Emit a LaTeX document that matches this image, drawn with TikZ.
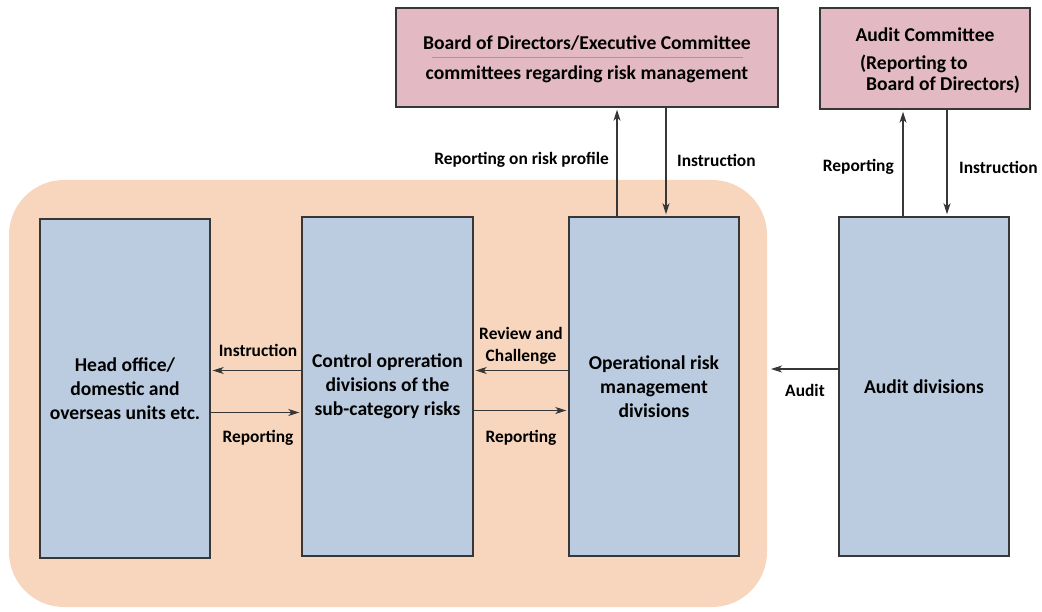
\documentclass[tikz,border=0pt]{standalone}
\usepackage{fontspec}
\setmainfont{Carlito}
\usetikzlibrary{arrows.meta}
\definecolor{peach}{RGB}{248,214,189}
\definecolor{boxblue}{RGB}{187,204,224}
\definecolor{boxpink}{RGB}{227,186,196}
\definecolor{edge}{RGB}{55,55,55}

\begin{document}
\begin{tikzpicture}[x=1pt,y=-1pt,>={Stealth[length=11pt,width=7pt,inset=3pt]},
  unitbox/.style={draw=edge,line width=1.4pt,fill=boxblue,minimum width=170pt,
    minimum height=339pt,align=center,inner sep=0pt,
    font=\bfseries\fontsize{19.6}{24}\selectfont},
  boardbox/.style={unitbox,fill=boxpink},
  lbl/.style={font=\bfseries\fontsize{17.4}{22}\selectfont,inner sep=0pt,align=center},
  link/.style={->,draw=edge,line width=1.1pt,shorten >=2pt}]
  \useasboundingbox (0,0) rectangle (1042,612);
  \fill[peach,rounded corners=55pt] (9,180) rectangle (767,607);
  \coordinate (bgedge) at (769,369);

  % the four divisions
  \node[unitbox] (head) at (125,388.5) {Head office/\\domestic and\\overseas units etc.};
  \node[unitbox,minimum width=171pt] (ctrl) at (387.5,386.5) {Control opreration\\divisions of the\\sub-category risks};
  \node[unitbox] (orm) at (654,386.5) {Operational risk\\management\\divisions};
  \node[unitbox] (auddiv) at (924,386.5) {Audit divisions};

  % committees on top
  \node[boardbox,minimum width=382pt,minimum height=99pt] (board) at (587,57.5)
  {\rule{0pt}{18pt}Board of Directors/Executive Committee\\[6pt]committees regarding risk management};
  \draw[edge!50,line width=0.7pt] ([xshift=-155pt]board.center) -- ([xshift=156pt]board.center);
  \node[boardbox,minimum width=210pt,minimum height=101pt] (audcom) at (925,58.5)
  {\rule{0pt}{22pt}Audit Committee\\[4pt]\hspace*{30pt}\begin{tabular}[t]{@{}l@{}}(Reporting to\\[-3pt]\phantom{(}Board of Directors)\end{tabular}};

  \draw[link] ([xshift=-37pt]orm.north) -- ([xshift=-37pt]orm.north |- board.south);
  \draw[link] ([xshift=12pt]board.south -| orm.north) -- ([xshift=12pt]orm.north);
  \draw[link] ([xshift=-21pt]auddiv.north) -- ([xshift=-21pt]auddiv.north |- audcom.south);
  \draw[link] ([xshift=23pt]audcom.south -| auddiv.north) -- ([xshift=23pt]auddiv.north);

  \draw[link] ([yshift=16pt]ctrl.west) -- ([yshift=16pt]ctrl.west -| head.east);
  \draw[link] ([yshift=-24pt]head.east -| head.east) -- ([yshift=-24pt]head.east -| ctrl.west);
  \draw[link] ([yshift=16pt]orm.west) -- ([yshift=16pt]orm.west -| ctrl.east);
  \draw[link] ([yshift=-24pt]ctrl.east) -- ([yshift=-24pt]ctrl.east -| orm.west);
  \draw[link] ([yshift=17.5pt]auddiv.west) -- (bgedge);

  \node[lbl,anchor=east] (reprisk) at (609,160) {Reporting on risk profile};
  \node[lbl,anchor=west] (instboard) at (677,160) {Instruction};
  \node[lbl,anchor=east] (repaudit) at (894,167) {Reporting};
  \node[lbl,anchor=west] (instaudit) at (959,167) {Instruction};
  \node[lbl] (insthead) at (258,350) {Instruction};
  \node[lbl] (rephead) at (258,438) {Reporting};
  \node[lbl] (review) at (521,346) {Review and\\Challenge};
  \node[lbl] (repctrl) at (521,438) {Reporting};
  \node[lbl] (audit) at (805,390) {Audit};
\end{tikzpicture}
\end{document}
